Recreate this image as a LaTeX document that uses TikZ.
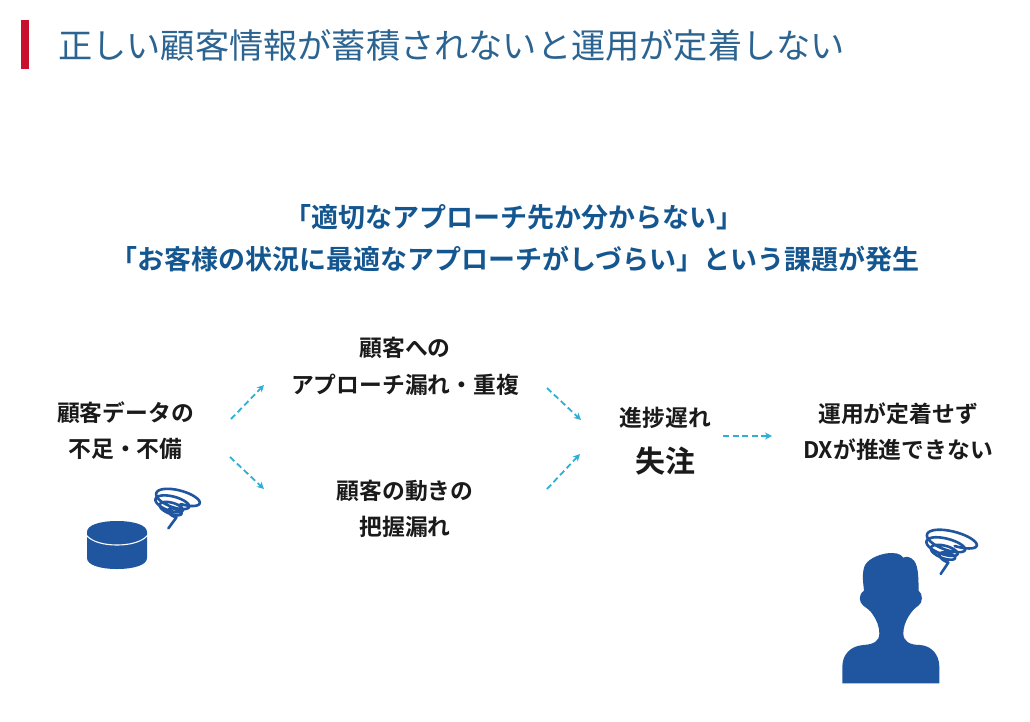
\documentclass[tikz,border=0pt]{standalone}
\usepackage{fontspec}
\setmainfont{Noto Sans CJK JP}
\newfontfamily\jpreg{Noto Sans CJK JP}
\newfontfamily\jpbold{Noto Sans CJK JP Bold}
\usetikzlibrary{arrows.meta}
\definecolor{titleblue}{HTML}{2B6391}
\definecolor{subblue}{HTML}{14568F}
\definecolor{iconblue}{HTML}{1F569F}
\definecolor{arrowcyan}{HTML}{2FAFD6}
\definecolor{barred}{HTML}{C8102E}
\definecolor{bodyblack}{HTML}{1A1A1A}
\tikzset{
  bodytext/.style={font=\fontsize{22.8}{26}\jpbold, text=bodyblack, inner sep=0pt},
  subtext/.style={font=\fontsize{27}{30}\jpbold, text=subblue, inner sep=0pt},
  flowarrow/.style={draw=arrowcyan, line width=1.8pt, dash pattern=on 6pt off 3.5pt, -{Stealth[length=7pt,width=7pt]}},
  swirl/.style={draw=iconblue, line width=2.6pt, line cap=round, line join=round},
}
% centre x, centre y, change of x, change of y, rx top, rx bottom, ry top, ry bottom
\newcommand{\swirlplot}[8]{%
  plot[domain=0:1, samples=150, smooth]
  ({#1+#3*\x-26*sin(180*\x)+(#5+(#6-#5)*\x)*cos(90+1440*(1-\x))},
   {#2+#4*\x+(#7+(#8-#7)*\x)*sin(90+1440*(1-\x))+0.26*(#5+(#6-#5)*\x)*cos(90+1440*(1-\x))})}
\begin{document}
\begin{tikzpicture}[x=1pt,y=-1pt]
\useasboundingbox (0,0) rectangle (1030,721);
\fill[barred] (21,20) rectangle (29,69);
\node[anchor=west, inner sep=0pt, text=titleblue, font=\fontsize{34.2}{40}\jpreg] (title) at (58,45) {正しい顧客情報が蓄積されないと運用が定着しない};
\node[subtext] (sub1) at (514,217) {「適切なアプローチ先か分からない」};
\node[subtext] (sub2) at (515,259) {「お客様の状況に最適なアプローチがしづらい」という課題が発生};

\node[bodytext] (a1) at (125.5,413) {顧客データの};
\node[bodytext] (a2) at (125.5,449) {不足・不備};
\node[bodytext] (b1) at (405,348) {顧客への};
\node[bodytext] (b2) at (405,385) {アプローチ漏れ・重複};
\node[bodytext] (c1) at (405,491) {顧客の動きの};
\node[bodytext] (c2) at (405,527) {把握漏れ};
\node[bodytext] (d1) at (665.5,418) {進捗遅れ};
\node[font=\fontsize{30}{34}\jpbold, text=bodyblack, inner sep=0pt] (d2) at (665.5,461) {失注};
\node[bodytext] (e1) at (898,414) {運用が定着せず};
\node[bodytext] (e2) at (898,450) {DXが推進できない};

\coordinate (p1s) at (231,419); \coordinate (p1e) at (264,385);
\coordinate (p2s) at (230,457); \coordinate (p2e) at (264,489);
\coordinate (p3s) at (547,388); \coordinate (p3e) at (581,420);
\coordinate (p4s) at (547,489); \coordinate (p4e) at (580,454);
\coordinate (p5s) at (723,436); \coordinate (p5e) at (772,436);
\draw[flowarrow] (p1s) -- (p1e);
\draw[flowarrow] (p2s) -- (p2e);
\draw[flowarrow] (p3s) -- (p3e);
\draw[flowarrow] (p4s) -- (p4e);
\draw[flowarrow] (p5s) -- (p5e);

% database cylinder
\fill[iconblue] (87,532) .. controls (87,525) and (100,521) .. (117,521) .. controls (134,521) and (147,525) .. (147,532)
  -- (147,558) .. controls (147,565) and (134,569) .. (117,569) .. controls (100,569) and (87,565) .. (87,558) -- cycle;
\draw[white, line width=1.1pt] (86,535) .. controls (92,542) and (104,545) .. (117,545) .. controls (130,545) and (142,542) .. (148,535);

% small swirl
\begin{scope}[shift={(60,470)},scale=1/3]
\draw[swirl] \swirlplot{362}{76}{-12}{58}{66}{18}{26}{9} -- (325,175);
\end{scope}

% person
\begin{scope}[shift={(820,510)},scale=1/3]
\fill[iconblue] (67,520) -- (67,470)
 .. controls (67,435) and (90,408) .. (130,405)
 .. controls (160,403) and (178,395) .. (178,370)
 .. controls (178,350) and (170,330) .. (158,313)
 .. controls (150,300) and (140,295) .. (130,287)
 .. controls (118,278) and (113,255) .. (132,242)
 .. controls (130,220) and (125,195) .. (133,170)
 .. controls (140,150) and (170,135) .. (200,130)
 .. controls (222,127) and (242,130) .. (250,143)
 .. controls (258,138) and (272,140) .. (282,152)
 .. controls (297,170) and (295,215) .. (296,242)
 .. controls (310,252) and (308,280) .. (295,287)
 .. controls (275,300) and (250,335) .. (250,370)
 .. controls (250,395) and (270,405) .. (300,405)
 .. controls (335,407) and (358,435) .. (358,470)
 -- (358,520) -- cycle;
\draw[swirl] \swirlplot{404}{80}{-18}{68}{76}{20}{28}{10} -- (362,192);
\end{scope}
\end{tikzpicture}
\end{document}
